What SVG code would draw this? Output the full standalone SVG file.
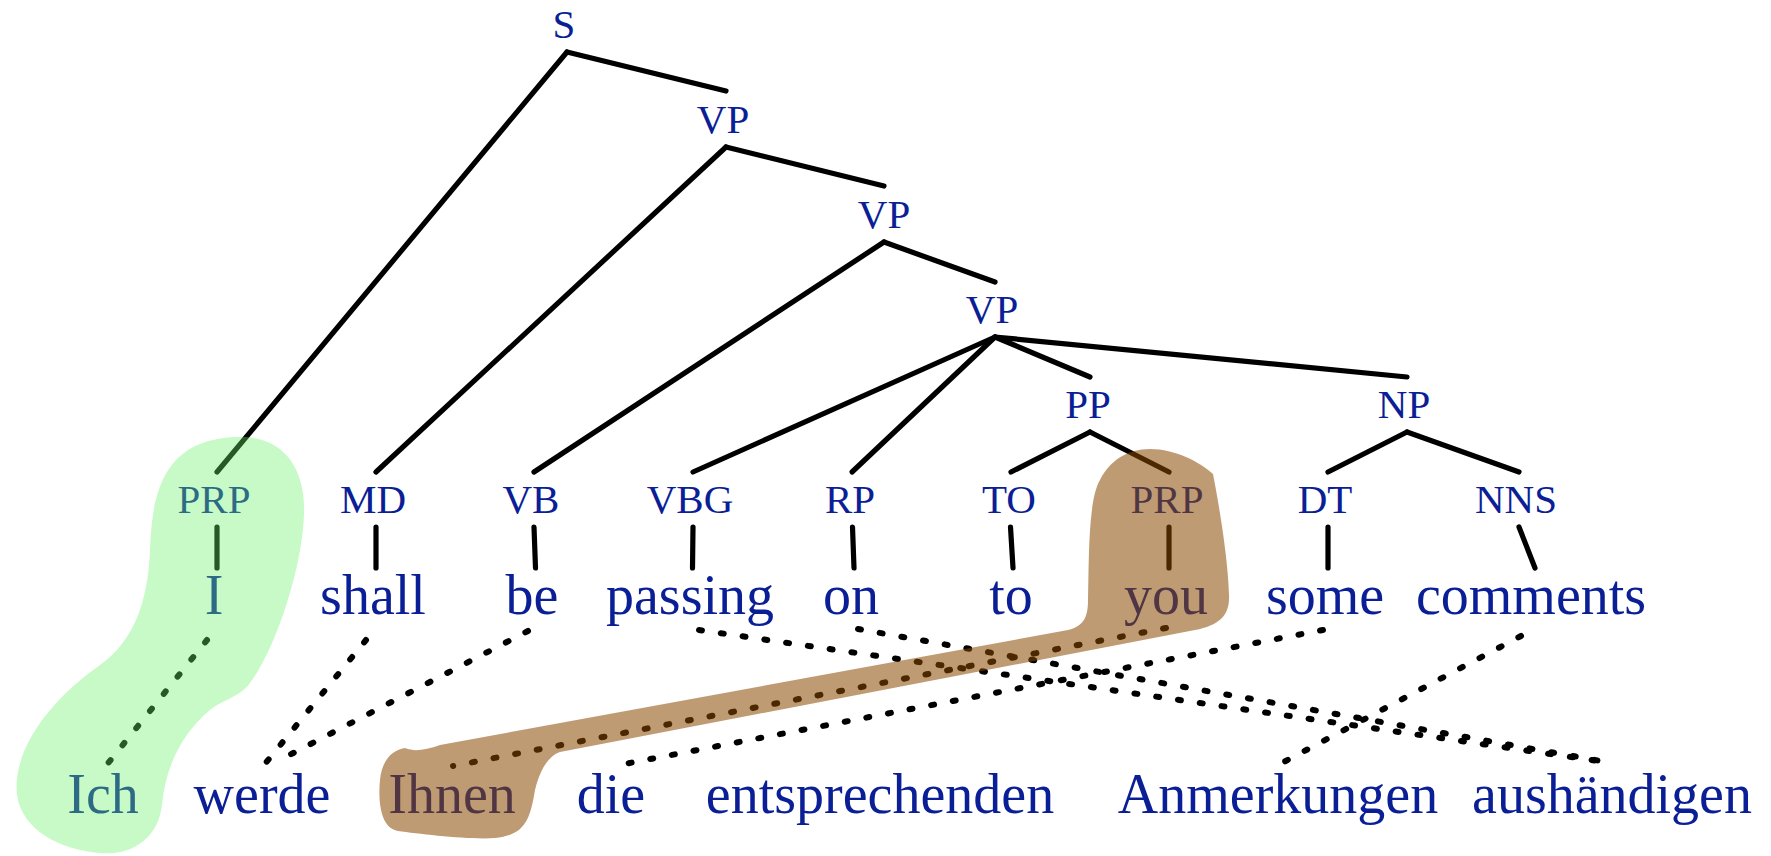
<svg xmlns="http://www.w3.org/2000/svg" width="1771" height="856" viewBox="0 0 1771 856">
<style>
text{font-family:"Liberation Serif","Times New Roman",serif;fill:#0a1e96;text-anchor:middle}
.tag{font-size:41px}
.w{font-size:56px}
.e{stroke:#000;stroke-width:5.2;stroke-linecap:round;fill:none}
.a{stroke:#000;stroke-width:6;stroke-linecap:round;stroke-dasharray:3 19;fill:none}
</style>
<rect width="1771" height="856" fill="#fff"/>
<g id="connectors">
<line class="e" x1="567" y1="52" x2="726" y2="91"/>
<line class="e" x1="567" y1="52" x2="217" y2="472"/>
<line class="e" x1="726" y1="147" x2="884" y2="186"/>
<line class="e" x1="726" y1="147" x2="376" y2="472"/>
<line class="e" x1="884" y1="242" x2="995" y2="282"/>
<line class="e" x1="884" y1="242" x2="534" y2="472"/>
<line class="e" x1="995" y1="337" x2="693" y2="472"/>
<line class="e" x1="995" y1="337" x2="852" y2="472"/>
<line class="e" x1="995" y1="337" x2="1090" y2="377"/>
<line class="e" x1="995" y1="337" x2="1407" y2="377"/>
<line class="e" x1="1090" y1="432" x2="1011" y2="472"/>
<line class="e" x1="1090" y1="432" x2="1169" y2="472"/>
<line class="e" x1="1407" y1="432" x2="1328" y2="472"/>
<line class="e" x1="1407" y1="432" x2="1519" y2="472"/>
<line class="e" x1="217" y1="527" x2="217" y2="568"/>
<line class="e" x1="376" y1="527" x2="376" y2="568"/>
<line class="e" x1="534" y1="527" x2="535.5" y2="568"/>
<line class="e" x1="693" y1="527" x2="692.5" y2="568"/>
<line class="e" x1="852.5" y1="527" x2="854" y2="568"/>
<line class="e" x1="1010.5" y1="527" x2="1013" y2="568"/>
<line class="e" x1="1169" y1="527" x2="1169" y2="568"/>
<line class="e" x1="1328" y1="527" x2="1328" y2="568"/>
<line class="e" x1="1519" y1="527" x2="1535" y2="568"/>
<line class="a" x1="207" y1="640" x2="105" y2="767"/>
<line class="a" x1="366" y1="640" x2="264" y2="765"/>
<line class="a" x1="528" y1="631" x2="276" y2="762"/>
<line class="a" x1="699" y1="630" x2="1612" y2="763"/>
<line class="a" x1="858" y1="629" x2="1612" y2="763"/>
<line class="a" x1="1166" y1="628" x2="453" y2="766"/>
<line class="a" x1="1323" y1="630" x2="614" y2="766"/>
<line class="a" x1="1521" y1="636" x2="1280" y2="764"/>
</g>
<g id="n-S"><text class="tag" x="564" y="38">S</text></g>
<g id="n-VP1"><text class="tag" x="723" y="133">VP</text></g>
<g id="n-VP2"><text class="tag" x="884" y="228">VP</text></g>
<g id="n-VP3"><text class="tag" x="992" y="323">VP</text></g>
<g id="n-PP"><text class="tag" x="1088" y="418">PP</text></g>
<g id="n-NP"><text class="tag" x="1404" y="418">NP</text></g>
<g id="n-PRP1"><text class="tag" x="214" y="513">PRP</text></g>
<g id="n-MD"><text class="tag" x="373" y="513">MD</text></g>
<g id="n-VB"><text class="tag" x="531" y="513">VB</text></g>
<g id="n-VBG"><text class="tag" x="690" y="513">VBG</text></g>
<g id="n-RP"><text class="tag" x="850" y="513">RP</text></g>
<g id="n-TO"><text class="tag" x="1009" y="513">TO</text></g>
<g id="n-PRP2"><text class="tag" x="1167" y="513">PRP</text></g>
<g id="n-DT"><text class="tag" x="1325" y="513">DT</text></g>
<g id="n-NNS"><text class="tag" x="1516" y="513">NNS</text></g>
<g id="w-I"><text class="w" x="214" y="614">I</text></g>
<g id="w-shall"><text class="w" x="373" y="614">shall</text></g>
<g id="w-be"><text class="w" x="532" y="614">be</text></g>
<g id="w-passing"><text class="w" x="690" y="614">passing</text></g>
<g id="w-on"><text class="w" x="851" y="614">on</text></g>
<g id="w-to"><text class="w" x="1011" y="614">to</text></g>
<g id="w-you"><text class="w" x="1166" y="614">you</text></g>
<g id="w-some"><text class="w" x="1325" y="614">some</text></g>
<g id="w-comments"><text class="w" x="1531" y="614">comments</text></g>
<g id="g-Ich"><text class="w" x="103" y="813">Ich</text></g>
<g id="g-werde"><text class="w" x="262" y="813">werde</text></g>
<g id="g-Ihnen"><text class="w" x="452" y="813">Ihnen</text></g>
<g id="g-die"><text class="w" x="611" y="813">die</text></g>
<g id="g-entsprechenden"><text class="w" x="880" y="813">entsprechenden</text></g>
<g id="g-Anmerkungen"><text class="w" x="1278" y="813">Anmerkungen</text></g>
<g id="g-aushaendigen"><text class="w" x="1612" y="813">aushändigen</text></g>
<g id="highlights">
<path id="blob-green" fill="#6bf16b" fill-opacity="0.37" d="M 241 437 C 285 437, 306 470, 304 515 C 302 570, 275 650, 250 683 C 240 697, 222 700, 210 710 C 180 735, 165 770, 162 805 C 158 840, 130 856, 100 853 C 60 850, 22 830, 17 795 C 12 750, 50 700, 100 665 C 135 640, 148 600, 150 550 C 152 490, 165 437, 241 437 Z"/>
<path id="blob-brown" fill="#8b4800" fill-opacity="0.55" d="M 1150 449 C 1175 449, 1200 462, 1213 474 C 1220 510, 1228 560, 1229 595 C 1230 615, 1220 625, 1195 630 L 560 752 C 548 756, 540 770, 535 790 C 530 820, 525 835, 495 838 C 470 840, 420 834, 398 831 C 380 828, 378 800, 380 780 C 382 760, 392 750, 405 748 C 415 752, 425 750, 440 745 L 1068 630 C 1085 626, 1088 615, 1088 600 C 1089 560, 1088 500, 1100 480 C 1110 460, 1128 449, 1150 449 Z"/>
</g>
</svg>
